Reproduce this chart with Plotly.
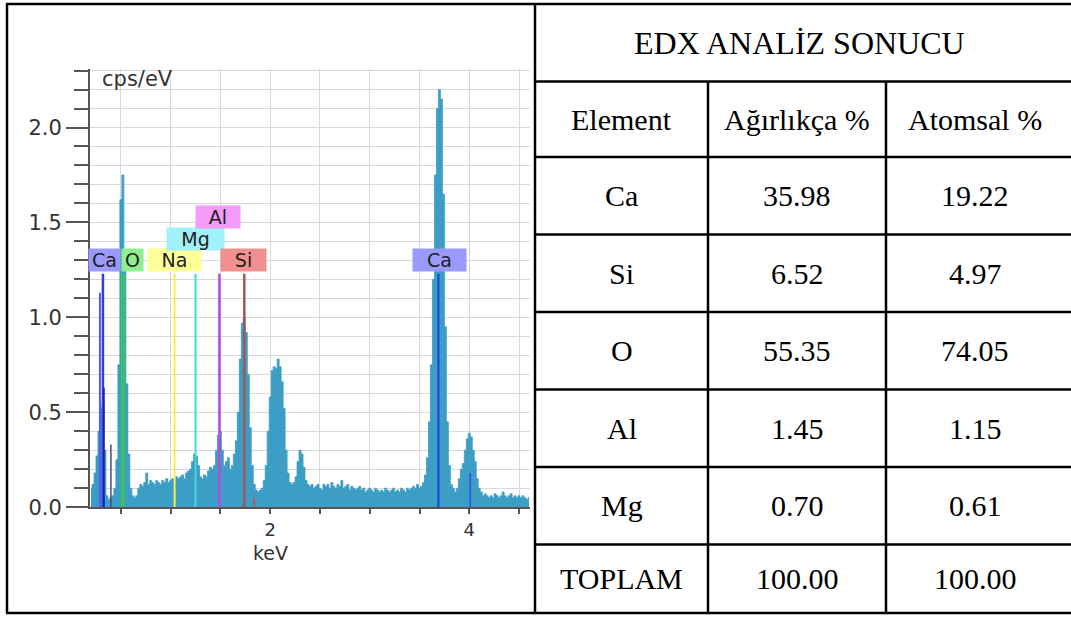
import plotly.graph_objects as go

W, H = 1071, 630

# ---------------- spectrum data (cps/eV per 0.02 keV channel) ----------------
E_START = 0.20
E_STEP = 0.02
counts = [
    0.10, 0.12, 0.18, 0.27, 0.40, 0.52, 0.55, 0.30, 0.06, 0.04,   # 0.20-0.38
    0.05, 0.06, 0.10, 0.25, 0.75, 1.62, 1.75, 1.30, 0.65, 0.28,   # 0.40-0.58
    0.10, 0.06, 0.05, 0.06, 0.10, 0.12, 0.11, 0.13, 0.18, 0.12,   # 0.60-0.78
    0.14, 0.13, 0.12, 0.14, 0.13, 0.12, 0.14, 0.13, 0.15, 0.13,   # 0.80-0.98
    0.14, 0.15, 0.14, 0.16, 0.15, 0.16, 0.17, 0.15, 0.18, 0.19,   # 1.00-1.18
    0.20, 0.24, 0.28, 0.27, 0.22, 0.16, 0.15, 0.17, 0.16, 0.19,   # 1.20-1.38
    0.21, 0.20, 0.22, 0.30, 0.38, 0.40, 0.30, 0.22, 0.24, 0.26,   # 1.40-1.58
    0.20, 0.22, 0.28, 0.35, 0.50, 0.78, 0.97, 1.00, 0.92, 0.70,   # 1.60-1.78
    0.42, 0.22, 0.12, 0.09, 0.08, 0.09, 0.10, 0.14, 0.22, 0.40,   # 1.80-1.98
    0.58, 0.72, 0.74, 0.73, 0.78, 0.74, 0.66, 0.52, 0.30, 0.18,   # 2.00-2.18
    0.13, 0.12, 0.13, 0.16, 0.24, 0.30, 0.28, 0.21, 0.14, 0.12,   # 2.20-2.38
    0.11, 0.12, 0.10, 0.11, 0.12, 0.10, 0.09, 0.12, 0.11, 0.12,   # 2.40-2.58
    0.10, 0.13, 0.11, 0.10, 0.12, 0.11, 0.14, 0.10, 0.11, 0.12,   # 2.60-2.78
    0.09, 0.11, 0.10, 0.09, 0.10, 0.11, 0.09, 0.10, 0.08, 0.09,   # 2.80-2.98
    0.10, 0.09, 0.08, 0.10, 0.09, 0.08, 0.09, 0.08, 0.10, 0.09,   # 3.00-3.18
    0.08, 0.09, 0.10, 0.08, 0.09, 0.08, 0.10, 0.09, 0.08, 0.10,   # 3.20-3.38
    0.09, 0.10, 0.11, 0.10, 0.12, 0.10, 0.11, 0.13, 0.17, 0.26,   # 3.40-3.58
    0.45, 0.75, 1.20, 1.75, 2.10, 2.20, 2.15, 1.65, 0.95, 0.45,   # 3.60-3.78
    0.22, 0.12, 0.10, 0.08, 0.10, 0.15, 0.20, 0.23, 0.30, 0.36,   # 3.80-3.98
    0.39, 0.37, 0.30, 0.24, 0.15, 0.10, 0.08, 0.06, 0.07, 0.06,   # 4.00-4.18
    0.05, 0.06, 0.05, 0.07, 0.06, 0.05, 0.06, 0.08, 0.06, 0.05,   # 4.20-4.38
    0.06, 0.07, 0.05, 0.06, 0.05, 0.06, 0.05, 0.06, 0.05, 0.04,   # 4.40-4.58
    0.05,                                                         # 4.60
]
energy = [round(E_START + i * E_STEP, 2) for i in range(len(counts))]

# element marker lines
marker_energy = [0.29, 0.32, 0.33, 0.40, 0.52, 1.04, 1.25, 1.49, 1.74, 1.84, 3.69, 4.01]
marker_height = [1.13, 1.23, 0.63, 0.33, 1.23, 1.23, 1.23, 1.23, 1.23, 0.05, 1.23, 0.18]
marker_color = ["#5a5aee", "#2f3fe8", "#1a1a99", "#4a4a8a", "#3cc060", "#f4f050",
                "#40d8e0", "#b84ad8", "#a05858", "#b06060", "#1f3fe0", "#2f4fe0"]
marker_width = [2, 2.5, 1.5, 1.5, 4, 2, 2, 2.5, 2.5, 2, 2, 1.5]

# element labels (O box partly hidden behind the low-energy Ca box)
label_text = ["O", "Ca", "Na", "Mg", "Al", "Si", "Ca"]
label_energy = [0.50, 0.50, 1.04, 1.25, 1.48, 1.73, 3.70]
label_anchor = ["left", "right", "center", "center", "center", "center", "center"]
label_row = [0, 0, 0, 1, 2, 0, 0]
label_color = ["#90ee90", "#9999ff", "#ffff99", "#9ef2f8", "#f39cf8", "#f09090", "#9999ff"]
label_width = [21, 31, 53, 57, 44, 45, 53]

# table
table_title = "EDX ANALİZ SONUCU"
table_header = ["Element", "Ağırlıkça %", "Atomsal %"]
elements = ["Ca", "Si", "O", "Al", "Mg", "TOPLAM"]
weight_pct = ["35.98", "6.52", "55.35", "1.45", "0.70", "100.00"]
atomic_pct = ["19.22", "4.97", "74.05", "1.15", "0.61", "100.00"]

# ---------------- geometry (pixels) ----------------
def px(x):
    return x / W

def py(y):
    return 1 - y / H

PLOT_L, PLOT_R, PLOT_T, PLOT_B = 90, 530, 70, 517
X_RANGE = [0.19, 4.61]
Y_RANGE = [0, 2.31]
ROW_H = 0.114  # label row spacing in data units
ROW_Y0 = 1.30

TEAL = "#3c9ec4"
AXIS = "#555555"
GRID = "#d9d9d9"
TXT = "#333333"
SANS = "DejaVu Sans"

fig = go.Figure()

fig.add_trace(go.Scatter(
    x=energy, y=counts, mode="lines", line=dict(color=TEAL, width=0.8, shape="hvh"),
    fill="tozeroy", fillcolor=TEAL, hoverinfo="skip", showlegend=False))

for e, h, c, w in zip(marker_energy, marker_height, marker_color, marker_width):
    fig.add_trace(go.Scatter(x=[e, e], y=[0, h], mode="lines",
                             line=dict(color=c, width=w), hoverinfo="skip",
                             showlegend=False))

annotations = []
for t, e, a, r, c, w in zip(label_text, label_energy, label_anchor, label_row,
                            label_color, label_width):
    annotations.append(dict(
        x=e, y=ROW_Y0 + r * ROW_H, xref="x", yref="y", text=t, showarrow=False,
        xanchor=a, yanchor="middle", bgcolor=c, width=w, height=22, borderpad=0,
        font=dict(family=SANS, size=19, color="#222222")))

annotations.append(dict(x=0.29, y=py(81), xref="x", yref="paper", text="cps/eV",
                        showarrow=False, xanchor="left", yanchor="middle",
                        font=dict(family=SANS, size=21, color=TXT)))
annotations.append(dict(x=2.0, y=py(564), xref="x", yref="paper", text="keV",
                        showarrow=False, xanchor="center", yanchor="middle",
                        font=dict(family=SANS, size=19, color=TXT)))

# ---------------- table ----------------
TL, TDIV, C1, C2, TR = 7, 535, 708, 886, 1071
TT, TB = 4, 625
row_lines = [83, 160, 239, 318, 397, 476, 555]
LW = 2.5
shapes = []
def hline(y, x0, x1):
    shapes.append(dict(type="line", xref="paper", yref="paper", x0=px(x0), x1=px(x1),
                       y0=py(y), y1=py(y), line=dict(color="black", width=LW)))
def vline(x, y0, y1):
    shapes.append(dict(type="line", xref="paper", yref="paper", x0=px(x), x1=px(x),
                       y0=py(y0), y1=py(y1), line=dict(color="black", width=LW)))

hline(TT, TL - 1, TR)
hline(TB, TL - 1, TR)
vline(TL, TT, TB)
vline(TDIV, TT, TB)
for y in row_lines:
    hline(y, TDIV, TR)
vline(C1, row_lines[0], TB)
vline(C2, row_lines[0], TB)

def cell_text(text, x0, x1, y0, y1, size=30):
    annotations.append(dict(x=px((x0 + x1) / 2), y=py((y0 + y1) / 2), xref="paper",
                            yref="paper", text=text, showarrow=False, xanchor="center",
                            yanchor="middle",
                            font=dict(family="Liberation Serif", size=size, color="black")))

cell_text(table_title, TDIV, 1064, TT, row_lines[0], size=32)
cols = [(TDIV, C1), (C1, C2), (C2, 1064)]
for (x0, x1), t in zip(cols, table_header):
    cell_text(t, x0, x1, row_lines[0], row_lines[1])
bounds = row_lines[1:] + [TB]
for i, (el, wv, av) in enumerate(zip(elements, weight_pct, atomic_pct)):
    y0, y1 = bounds[i], bounds[i + 1]
    for (x0, x1), t in zip(cols, [el, wv, av]):
        cell_text(t, x0, x1, y0, y1)

fig.update_layout(
    width=W, height=H, margin=dict(l=0, r=0, t=0, b=0),
    paper_bgcolor="white", plot_bgcolor="white",
    showlegend=False, shapes=shapes, annotations=annotations,
    xaxis=dict(domain=[px(PLOT_L), px(PLOT_R)], range=X_RANGE, showgrid=True,
               gridcolor=GRID, gridwidth=1, tickvals=[2, 4], ticktext=["2", "4"],
               ticks="outside", ticklen=5, tickwidth=2, tickcolor=AXIS,
               showline=True, linecolor=AXIS, linewidth=2, zeroline=False,
               tickfont=dict(family=SANS, size=18, color=TXT),
               minor=dict(dtick=0.5, tick0=0, ticks="outside", ticklen=5, tickwidth=2,
                          tickcolor=AXIS, showgrid=True, gridcolor=GRID),
               fixedrange=True),
    yaxis=dict(domain=[py(PLOT_B), py(PLOT_T)], range=Y_RANGE, showgrid=True,
               gridcolor=GRID, gridwidth=1, dtick=0.5, tick0=0, tickformat=".1f",
               ticks="outside", ticklen=22, tickwidth=1.5, tickcolor=AXIS,
               showline=True, linecolor=AXIS, linewidth=2, zeroline=False,
               tickfont=dict(family=SANS, size=21, color=TXT),
               minor=dict(dtick=0.1, tick0=0, ticks="outside", ticklen=14, tickwidth=1.5,
                          tickcolor=AXIS, showgrid=True, gridcolor=GRID),
               fixedrange=True),
)

fig.write_html("out.html", config={"displayModeBar": False},
               post_script="document.body.style.margin='0';")
